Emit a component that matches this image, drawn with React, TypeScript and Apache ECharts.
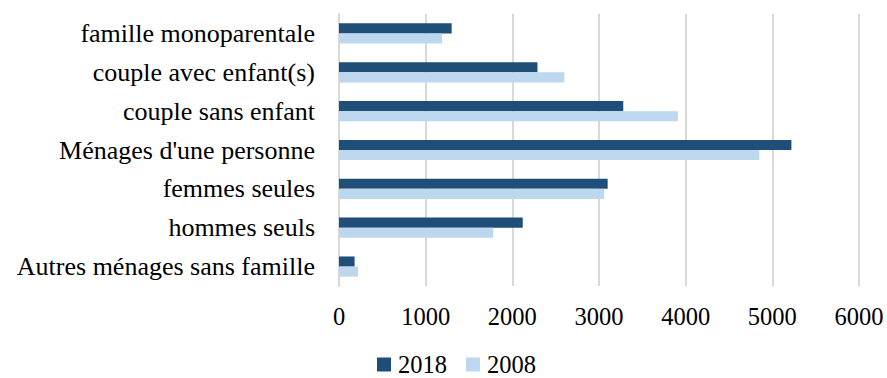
import React, { useEffect, useRef } from "react";
import * as echarts from "echarts";

// Household types, listed top to bottom
const categories = [
  "famille monoparentale",
  "couple avec enfant(s)",
  "couple sans enfant",
  "Ménages d'une personne",
  "femmes seules",
  "hommes seuls",
  "Autres ménages sans famille",
];

const values2018 = [1300, 2290, 3280, 5220, 3100, 2120, 180];
const values2008 = [1190, 2600, 3910, 4850, 3060, 1780, 220];

const xTicks = [0, 1000, 2000, 3000, 4000, 5000, 6000];

const FONT = "Liberation Serif";

export default function App() {
  const ref = useRef<HTMLDivElement>(null);

  useEffect(() => {
    document.body.style.margin = "0";
    document.body.style.overflow = "hidden";
    if (!ref.current) return;
    const chart = echarts.init(ref.current, null, { renderer: "svg" });
    chart.setOption({
      animation: false,
      textStyle: { fontFamily: FONT },
      legend: {
        top: 352,
        left: 377,
        padding: 0,
        itemWidth: 14,
        itemHeight: 14,
        itemGap: 19,
        icon: "rect",
        textStyle: { fontFamily: FONT, fontSize: 24.5, color: "#000", padding: [0, 0, 0, 2] },
        data: ["2018", "2008"],
      },
      grid: { left: 339, right: 28, top: 14, height: 272 },
      xAxis: {
        type: "value",
        min: xTicks[0],
        max: xTicks[xTicks.length - 1],
        interval: 1000,
        axisLine: { show: false },
        axisTick: { show: false },
        splitLine: { lineStyle: { color: "#d9d9d9", width: 2 } },
        axisLabel: {
          fontFamily: FONT,
          fontSize: 24.5,
          color: "#000",
          margin: 18,
          formatter: (v: number) => String(v),
        },
      },
      yAxis: {
        type: "category",
        inverse: true,
        data: categories,
        axisLine: { show: true, lineStyle: { color: "#d9d9d9", width: 2 } },
        axisTick: { show: false },
        axisLabel: { fontFamily: FONT, fontSize: 26, color: "#000", margin: 24 },
      },
      series: [
        {
          name: "2018",
          type: "bar",
          data: values2018,
          barGap: "0%",
          barCategoryGap: "48%",
          itemStyle: { color: "#1f4e79" },
        },
        {
          name: "2008",
          type: "bar",
          data: values2008,
          barGap: "0%",
          barCategoryGap: "48%",
          itemStyle: { color: "#bdd7ee" },
        },
      ],
    });
    return () => chart.dispose();
  }, []);

  return <div ref={ref} style={{ width: 887, height: 378 }} />;
}
